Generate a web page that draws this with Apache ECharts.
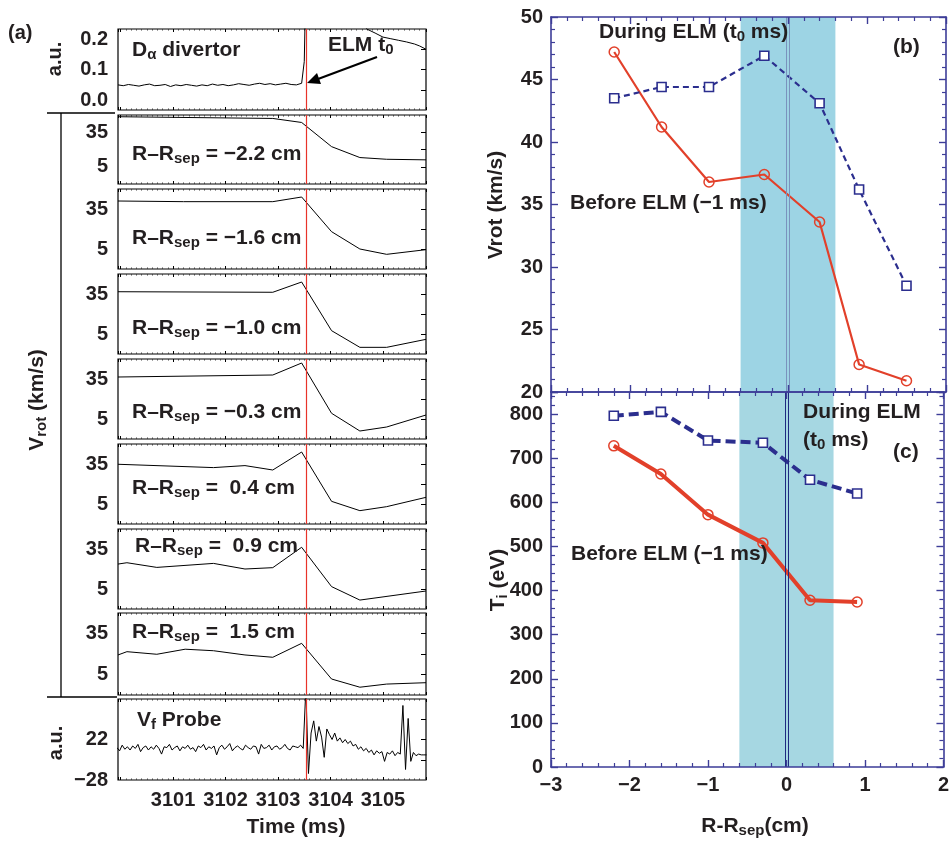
<!DOCTYPE html>
<html>
<head>
<meta charset="utf-8">
<script src="https://cdn.jsdelivr.net/npm/echarts@6/dist/echarts.min.js"></script>
<style>
html, body { margin: 0; padding: 0; background: #fff; }
#chart { width: 952px; height: 841px; }
</style>
</head>
<body>
<div id="chart"></div>
<script>
// ---- panel (a): time traces ----
var timeTicks = [3101, 3102, 3103, 3104, 3105];
var elmTime = 3103.53;

var daTime = [3099.95, 3100.05, 3100.15, 3100.25, 3100.35, 3100.45, 3100.55, 3100.65, 3100.75, 3100.85,
  3100.95, 3101.05, 3101.15, 3101.25, 3101.35, 3101.45, 3101.55, 3101.65, 3101.75, 3101.85,
  3101.95, 3102.05, 3102.15, 3102.25, 3102.35, 3102.45, 3102.55, 3102.65, 3102.75, 3102.85,
  3102.95, 3103.05, 3103.15, 3103.25, 3103.35, 3103.45,
  3103.5, 3103.53, 3104.3, 3104.69, 3104.85, 3105.0, 3105.15, 3105.3, 3105.45, 3105.6, 3105.7, 3105.82];
var daValue = [0.062, 0.060, 0.063, 0.061, 0.059, 0.062, 0.064, 0.060, 0.061, 0.063,
  0.058, 0.062, 0.060, 0.063, 0.061, 0.059, 0.062, 0.060, 0.064, 0.061,
  0.063, 0.060, 0.062, 0.065, 0.063, 0.061, 0.064, 0.066, 0.063, 0.065,
  0.062, 0.064, 0.066, 0.063, 0.062, 0.066,
  0.12, 0.32, 0.3, 0.2, 0.19, 0.18, 0.176, 0.172, 0.168, 0.163, 0.158, 0.15];

var timeM22 = [3099.95, 3102.9, 3103.45, 3104.02, 3104.56, 3105.07, 3105.82];
var vrotM22 = [48.5, 47, 43.5, 22.5, 13, 11.5, 11];
var timeM16 = [3099.95, 3101.2, 3102.9, 3103.45, 3104.02, 3104.56, 3105.07, 3105.82];
var vrotM16 = [41, 40.5, 40.5, 44, 18, 5, 1, 4.5];
var timeM10 = [3099.95, 3102.9, 3103.45, 3104.02, 3104.56, 3105.07, 3105.82];
var vrotM10 = [36.7, 36.3, 44, 7.5, -5, -5, 1];
var timeM03 = [3099.95, 3102.9, 3103.45, 3104.02, 3104.56, 3105.07, 3105.82];
var vrotM03 = [36.5, 38, 47, 9.3, -4, -1, 8];
var timeP04 = [3099.95, 3101.77, 3102.37, 3102.9, 3103.45, 3104.02, 3104.56, 3105.07, 3105.82];
var vrotP04 = [34.8, 32.3, 33.8, 30.5, 44, 7, 0, 3, 10];
var timeP09 = [3099.95, 3100.12, 3100.69, 3101.77, 3102.37, 3102.9, 3103.45, 3104.02, 3104.56, 3105.82];
var vrotP09 = [23.7, 24.7, 21.2, 24.2, 20, 21, 36.3, 6.8, -3.3, 3.5];
var timeP15 = [3099.95, 3100.12, 3100.69, 3101.23, 3101.77, 3102.37, 3102.9, 3103.45, 3104.02, 3104.56, 3105.07, 3105.82];
var vrotP15 = [19.3, 21.7, 19.8, 23.5, 22.4, 19.3, 17.6, 27.8, 1.7, -4.3, -2, -1];
var radiusLabels = ['−2.2', '−1.6', '−1.0', '−0.3', ' 0.4', ' 0.9', ' 1.5'];

// floating potential, sampled every 0.05 ms
var vfStart = 3099.93, vfStep = 0.05;
var vfValue = [12, 8, 15, 10, 13, 9, 14, 11, 16, 7,
  12, 14, 9, 13, 10, 15, 11, 4, 13, 12,
  16, 9, 12, 14, 8, 13, 11, 15, 10, 12,
  7, 14, 12, 16, 9, 13, 11, 14, 3, 12,
  15, 10, 13, 17, 8, 12, 14, 11, 9, 15,
  12, 10, 14, 13, 4, 16, 11, 12, 15, 9,
  13, 14, 10, 12, 16, 11, 9, 14, 13, 12,
  15, 11,
  85, -20, 30, 45, 20, 38, 25, 0, 35, 28,
  22, 30, 20, 24, 18, 22, 17, 20, 14, 16,
  10, 13, 8, 11, 6, 9, 3, 8, 5, 7,
  -5, 6, 4, 8, 2, 6, 4, 64, -15, 48,
  -5, 6, 2, 4, 3, 3, 3];

// ---- panels (b), (c): profiles ----
var rPos = [-2.2, -1.6, -1.0, -0.3, 0.4, 0.9, 1.5];
var vrotBefore = [47.2, 41.2, 36.8, 37.4, 33.6, 22.2, 20.9];
var vrotDuring = [43.5, 44.4, 44.4, 46.9, 43.1, 36.2, 28.5];
var tiPos = [-2.2, -1.6, -1.0, -0.3, 0.3, 0.9];
var tiBefore = [728, 664, 572, 508, 378, 374];
var tiDuring = [796, 805, 740, 735, 651, 620];
var elmBand = [-0.6, 0.6];

var FONT = "'Liberation Sans', Arial, sans-serif";
var INK = '#231f20';
var RED = '#e2402a';
var NAVY = '#2b2e8e';
var AXB = '#3d3d98';

function zip(xs, ys) { return xs.map(function (x, i) { return [x, ys[i]]; }); }
function minus(v) { return v < 0 ? '−' + Math.abs(v) : String(v); }

var vrotAxis = { min: -10, max: 50, labels: [5, 35], ticks: [5, 20, 35], fmt: function (v) { return String(v); } };
var leftPanels = [
  { data: zip(daTime, daValue), min: 0, max: 0.2, labels: [0, 0.1, 0.2], ticks: [0.05, 0.1, 0.15], fmt: function (v) { return v.toFixed(1); }, align: true },
  { data: zip(timeM22, vrotM22) }, { data: zip(timeM16, vrotM16) }, { data: zip(timeM10, vrotM10) },
  { data: zip(timeM03, vrotM03) }, { data: zip(timeP04, vrotP04) }, { data: zip(timeP09, vrotP09) },
  { data: zip(timeP15, vrotP15) },
  { data: vfValue.map(function (v, i) { return [vfStart + i * vfStep, v]; }), min: -28, max: 72, labels: [-28, 22], ticks: [-3, 22, 47], fmt: minus }
];
var panelTops = [29, 115, 189, 274, 359, 444, 529, 613, 699];
var panelHeights = [81, 69, 80, 80, 80, 80, 80, 82, 81];

var grids = [], xAxes = [], yAxes = [], series = [];
var tickFont = { fontFamily: FONT, fontWeight: 'bold', fontSize: 20, color: INK };

leftPanels.forEach(function (p, i) {
  var ax = p.min === undefined ? vrotAxis : p;
  grids.push({ left: 118, top: panelTops[i], width: 308, height: panelHeights[i], show: true, borderColor: '#000', borderWidth: 1.2 });
  ['bottom', 'top'].forEach(function (pos) {
    xAxes.push({
      gridIndex: i, type: 'value', position: pos, min: 3099.95, max: 3105.82,
      axisLine: { show: false, onZero: false },
      axisTick: { show: true, inside: true, length: 3, lineStyle: { color: '#000', width: 1 } },
      minorTick: { show: true, splitNumber: 10, length: 1.5, lineStyle: { color: '#444', width: 1 } },
      splitLine: { show: false },
      axisLabel: (pos === 'bottom' && i === 8) ?
        Object.assign({ show: true, customValues: timeTicks, margin: 10, formatter: function (v) { return String(v); } }, tickFont) : { show: false }
    });
  });
  var lab = Object.assign({ show: true, customValues: ax.labels, formatter: ax.fmt, margin: 10 }, tickFont);
  if (p.align) { lab.verticalAlignMinLabel = 'bottom'; lab.verticalAlignMaxLabel = 'top'; }
  yAxes.push({ gridIndex: i, type: 'value', min: ax.min, max: ax.max, position: 'left',
    axisLine: { show: false, onZero: false }, axisTick: { show: false }, splitLine: { show: false }, axisLabel: lab });
  yAxes.push({ gridIndex: i, type: 'value', min: ax.min, max: ax.max, position: 'right',
    axisLine: { show: false, onZero: false }, splitLine: { show: false }, axisLabel: { show: false },
    axisTick: { show: true, inside: true, length: 5, customValues: ax.ticks, lineStyle: { color: '#000' } } });
  series.push({
    type: 'line', xAxisIndex: 2 * i, yAxisIndex: 2 * i, data: p.data, showSymbol: false,
    lineStyle: { color: '#000', width: 1 }, animation: false, z: 3,
    markLine: { silent: true, symbol: 'none', label: { show: false },
      lineStyle: { color: '#e8332a', width: 1.2, type: 'solid' }, data: [{ xAxis: elmTime }] }
  });
});

// right-hand panels
function rightAxes(gi, yMin, yMax, yInt, showX) {
  var common = { gridIndex: gi, type: 'value', z: 5,
    axisLine: { show: true, onZero: false, lineStyle: { color: AXB, width: 1.6 } },
    axisTick: { show: true, inside: true, length: 7, lineStyle: { color: AXB, width: 1.4 } },
    minorTick: { show: true, splitNumber: 5, length: 4, lineStyle: { color: AXB, width: 1.2 } },
    splitLine: { show: false } };
  ['bottom', 'top'].forEach(function (pos) {
    xAxes.push(Object.assign({}, common, { position: pos, min: -3, max: 2, interval: 1,
      axisLabel: (pos === 'bottom' && showX) ? Object.assign({ show: true, formatter: minus, margin: 8 }, tickFont) : { show: false } }));
  });
  ['left', 'right'].forEach(function (pos) {
    yAxes.push(Object.assign({}, common, { position: pos, min: yMin, max: yMax, interval: yInt,
      axisLabel: pos === 'left' ? Object.assign({ show: true, margin: 8, showMaxLabel: yMax % yInt === 0 }, tickFont) : { show: false } }));
  });
}
grids.push({ left: 551, top: 17, width: 395, height: 375 });
rightAxes(9, 20, 50, 5, false);
grids.push({ left: 551, top: 392, width: 395, height: 375 });
rightAxes(10, 0, 850, 100, true);

function profileSeries(gi, xs, before, during, width, dash, bandColor, zeroColor) {
  series.push({
    type: 'line', xAxisIndex: 2 * gi, yAxisIndex: 2 * gi, data: zip(xs, before), animation: false, z: 3,
    symbol: 'circle', symbolSize: 10,
    itemStyle: { color: 'rgba(0,0,0,0)', borderColor: RED, borderWidth: 1.5 },
    lineStyle: { color: RED, width: width },
    markArea: { silent: true, itemStyle: { color: bandColor }, data: [[{ xAxis: elmBand[0] }, { xAxis: elmBand[1] }]] },
    markLine: { silent: true, symbol: 'none', label: { show: false },
      lineStyle: { color: zeroColor, width: 1, type: 'solid' }, data: [{ xAxis: -0.02 }, { xAxis: 0.02 }] }
  });
  series.push({
    type: 'line', xAxisIndex: 2 * gi, yAxisIndex: 2 * gi, data: zip(xs, during), animation: false, z: 4,
    symbol: 'rect', symbolSize: 9,
    itemStyle: { color: '#fff', borderColor: NAVY, borderWidth: 1.6 },
    lineStyle: { color: NAVY, width: width, type: dash }
  });
}
profileSeries(9, rPos, vrotBefore, vrotDuring, 2.2, [6, 4], '#9dd4e4', '#7a93bd');
profileSeries(10, tiPos, tiBefore, tiDuring, 4, [10, 5], '#a6d7e2', '#1f2a80');

// text annotations
var SUB = { fontSize: 15, lineHeight: 14, padding: [10, 0, 0, 0], fontFamily: FONT, fontWeight: 'bold', fill: INK };
function txt(x, y, text, opt) {
  opt = opt || {};
  return {
    type: 'text', x: x, y: y, rotation: opt.rot || 0, z: 100, silent: true,
    style: { text: text, fontFamily: FONT, fontWeight: 'bold', fontSize: opt.size || 21, fill: INK,
      align: opt.align || 'left', verticalAlign: 'middle', rich: { s: SUB } }
  };
}
var graphics = [
  txt(8, 33, '(a)', { size: 20 }),
  txt(55, 59, 'a.u.', { rot: Math.PI / 2, align: 'center', size: 20 }),
  txt(56, 743, 'a.u.', { rot: Math.PI / 2, align: 'center', size: 20 }),
  txt(37, 400, 'V{s|rot} (km/s)', { rot: Math.PI / 2, align: 'center', size: 21 }),
  txt(132, 50, 'D{s|α} divertor'),
  txt(328, 45, 'ELM t{s|0}'),
  txt(137, 720, 'V{s|f} Probe'),
  txt(296, 827, 'Time (ms)', { align: 'center' }),
  txt(599, 32, 'During ELM (t{s|0} ms)'),
  txt(893, 47, '(b)'),
  txt(570, 203, 'Before ELM (−1 ms)'),
  txt(803, 412, 'During ELM'),
  txt(803, 440, '(t{s|0} ms)'),
  txt(893, 452, '(c)'),
  txt(571, 554, 'Before ELM (−1 ms)'),
  txt(496, 205, 'Vrot (km/s)', { rot: Math.PI / 2, align: 'center' }),
  txt(498, 580, 'T{s|i} (eV)', { rot: Math.PI / 2, align: 'center' }),
  txt(755, 826, 'R-R{s|sep}(cm)', { align: 'center' }),
  { type: 'polyline', silent: true, shape: { points: [[47, 113], [115, 113]] }, style: { stroke: '#000', lineWidth: 1.3 } },
  { type: 'polyline', silent: true, shape: { points: [[61, 113], [61, 697]] }, style: { stroke: '#000', lineWidth: 1.3 } },
  { type: 'polyline', silent: true, shape: { points: [[47, 697], [117, 697]] }, style: { stroke: '#000', lineWidth: 1.3 } },
  { type: 'polyline', silent: true, shape: { points: [[377, 57], [318, 79]] }, style: { stroke: '#000', lineWidth: 2.2 } },
  { type: 'polygon', silent: true, shape: { points: [[307, 83], [321, 84], [317, 73]] }, style: { fill: '#000' } }
];
radiusLabels.forEach(function (r, k) {
  var ys = [154, 238, 328, 412, 488, 546, 632];
  graphics.push(txt(k === 5 ? 135 : 132, ys[k], 'R–R{s|sep} = ' + r + ' cm'));
});

var chart = echarts.init(document.getElementById('chart'));
chart.setOption({
  backgroundColor: '#fff',
  animation: false,
  grid: grids,
  xAxis: xAxes,
  yAxis: yAxes,
  series: series,
  graphic: graphics
});
</script>
</body>
</html>
